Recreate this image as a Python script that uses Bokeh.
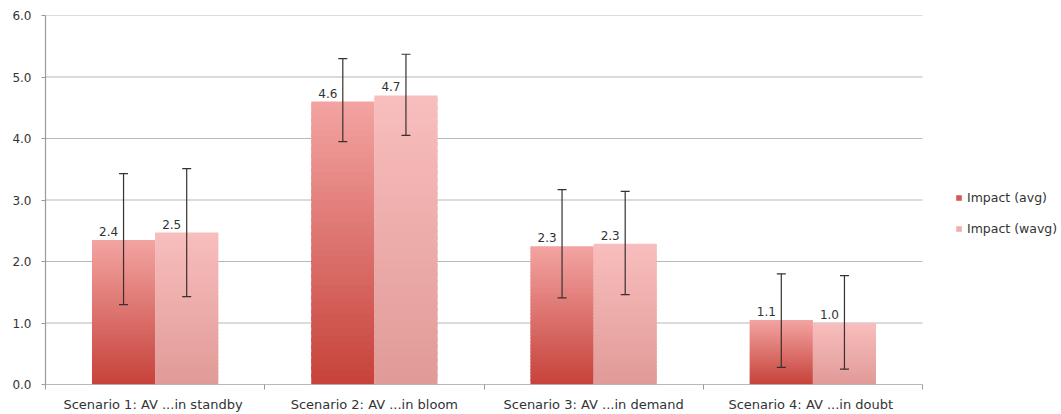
import numpy as np
from bokeh.plotting import figure
from bokeh.models import (ColumnDataSource, Whisker, TeeHead, Legend, LegendItem,
                          FixedTicker, Range1d, NumeralTickFormatter)
from bokeh.embed import file_html
from bokeh.resources import INLINE
from bokeh.core.properties import value

categories = ["Scenario 1: AV  ...in standby", "Scenario 2: AV ...in bloom",
              "Scenario 3: AV ...in demand", "Scenario 4:  AV ...in doubt"]
avg = [2.35, 4.60, 2.25, 1.05]
wavg = [2.47, 4.70, 2.29, 1.00]
avg_labels = ["2.4", "4.6", "2.3", "1.1"]
wavg_labels = ["2.5", "4.7", "2.3", "1.0"]
avg_upper = [3.43, 5.30, 3.17, 1.80]
avg_lower = [1.30, 3.95, 1.41, 0.28]
wavg_upper = [3.51, 5.37, 3.14, 1.77]
wavg_lower = [1.43, 4.05, 1.46, 0.25]
y_ticks = [0, 1, 2, 3, 4, 5, 6]

FONT = "DejaVu Sans"
TXT = "#333333"
AXIS = "#9a9a9a"
BAR_W = 0.288

n_cat = len(categories)
centers = np.arange(n_cat) + 0.5

FIG_W, FIG_H = 1061, 414
LEFT, TOP, BOTTOM = 45, 15, 30
FRAME_W = FIG_W - LEFT            # frame runs to the right edge
PLOT_W = 877                      # px occupied by the categories
x_end = n_cat * FRAME_W / PLOT_W

p = figure(width=FIG_W, height=FIG_H, x_range=Range1d(0, x_end), y_range=Range1d(0, 6),
           output_backend="svg", toolbar_location=None,
           min_border_left=LEFT, min_border_top=TOP, min_border_right=0, min_border_bottom=BOTTOM)
p.outline_line_color = None
p.background_fill_color = "white"
p.xgrid.visible = False
p.ygrid.visible = False

# horizontal gridlines limited to the category area
p.segment(x0=[0] * len(y_ticks), x1=[n_cat] * len(y_ticks), y0=y_ticks, y1=y_ticks,
          line_color="#b8b8b8", line_width=1.2)


def hex2rgb(h):
    return np.array([int(h[i:i + 2], 16) for i in (1, 3, 5)], dtype=float)


def grad_bars(xs, vals, c_bottom, c_top, n=40):
    cb, ct = hex2rgb(c_bottom), hex2rgb(c_top)
    xx, bb, tt, cc = [], [], [], []
    for x, v in zip(xs, vals):
        for k in range(n):
            f = (k + 0.5) / n
            c = cb + (ct - cb) * f
            xx.append(x)
            bb.append(v * k / n)
            tt.append(min(v, v * (k + 1.6) / n))
            cc.append("#%02x%02x%02x" % tuple(int(round(t)) for t in c))
    src = ColumnDataSource(dict(x=xx, bottom=bb, top=tt, color=cc))
    return p.vbar(x="x", bottom="bottom", top="top", width=BAR_W, fill_color="color",
                  line_color=None, source=src)


x_avg = centers - BAR_W / 2
x_wavg = centers + BAR_W / 2

grad_bars(x_avg, avg, "#c6423a", "#f3a4a2")
grad_bars(x_wavg, wavg, "#e09a97", "#f8bebd")

# x axis baseline over the category area
p.segment(x0=[0], x1=[n_cat], y0=[0], y1=[0], line_color=AXIS, line_width=1.2)

# legend proxies
leg_avg = p.vbar(x=[x_avg[0]], top=[0], width=0.0, fill_color="#d55a53", line_color=None)
leg_wavg = p.vbar(x=[x_wavg[0]], top=[0], width=0.0, fill_color="#f0aeac", line_color=None)

# error bars
for xs, lo, hi in ((x_avg, avg_lower, avg_upper), (x_wavg, wavg_lower, wavg_upper)):
    es = ColumnDataSource(dict(base=list(xs), lower=lo, upper=hi))
    w = Whisker(base="base", lower="lower", upper="upper", source=es, dimension="height",
                line_color="#3a3030", line_width=1.2, level="overlay",
                upper_head=TeeHead(size=9, line_color="#3a3030", line_width=1.2),
                lower_head=TeeHead(size=9, line_color="#3a3030", line_width=1.2))
    p.add_layout(w)

# value labels
for xs, vals, labs in ((x_avg, avg, avg_labels), (x_wavg, wavg, wavg_labels)):
    p.text(x=list(xs), y=vals, text=labs, x_offset=-15, y_offset=-4,
           text_align="center", text_baseline="bottom",
           text_font=value(FONT), text_font_size="12px", text_color=TXT)

# axes
p.xaxis.ticker = FixedTicker(ticks=list(centers), minor_ticks=list(range(n_cat + 1)))
p.xaxis.major_label_overrides = {float(c): lab for c, lab in zip(centers, categories)}
p.xaxis.major_tick_out = 0
p.xaxis.major_tick_in = 0
p.xaxis.minor_tick_out = 5
p.xaxis.minor_tick_in = 0
p.xaxis.axis_line_color = None
p.xaxis.minor_tick_line_color = AXIS
p.xaxis.major_label_text_font = FONT
p.xaxis.major_label_text_font_size = "13px"
p.xaxis.major_label_text_color = TXT
p.xaxis.major_label_standoff = 7

p.yaxis.ticker = FixedTicker(ticks=y_ticks, minor_ticks=[])
p.yaxis.formatter = NumeralTickFormatter(format="0.0")
p.yaxis.axis_line_color = AXIS
p.yaxis.axis_line_width = 1.2
p.yaxis.major_tick_line_color = AXIS
p.yaxis.major_tick_out = 4
p.yaxis.major_tick_in = 0
p.yaxis.major_label_text_font = FONT
p.yaxis.major_label_text_font_size = "12px"
p.yaxis.major_label_text_color = TXT
p.yaxis.major_label_standoff = 10

legend = Legend(items=[LegendItem(label="Impact (avg)", renderers=[leg_avg]),
                       LegendItem(label="Impact (wavg)", renderers=[leg_wavg])],
                location=(PLOT_W + 33, 146), orientation="vertical",
                glyph_width=7, glyph_height=7, label_height=20, spacing=11,
                padding=0, margin=0, border_line_color=None,
                background_fill_alpha=0,
                label_text_font=FONT, label_text_font_size="12.5px", label_text_color=TXT,
                label_standoff=5)
p.add_layout(legend)

open("out.html", "w").write(file_html(p, INLINE))
